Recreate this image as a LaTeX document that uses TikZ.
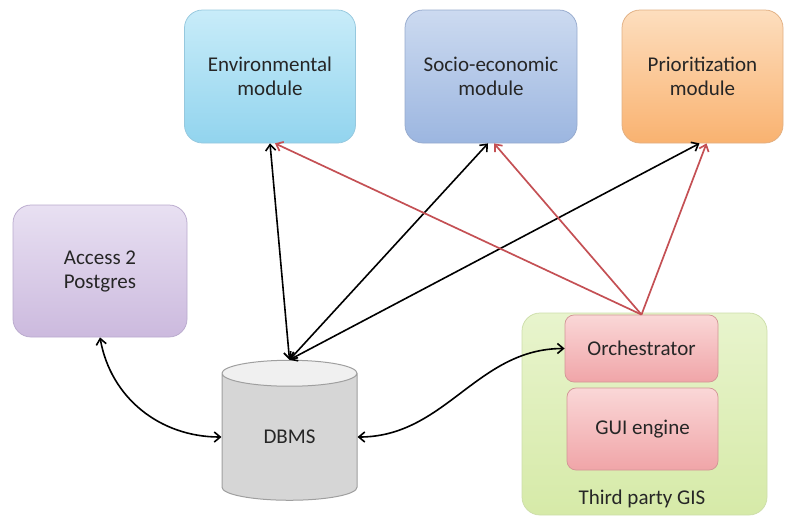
\documentclass[tikz,border=0pt]{standalone}
\usepackage{fontspec}
\setmainfont{Carlito}
\usetikzlibrary{shapes.geometric,arrows.meta}

\definecolor{envtop}{RGB}{200,236,249}
\definecolor{envbot}{RGB}{146,212,238}
\definecolor{envline}{RGB}{150,200,222}
\definecolor{soctop}{RGB}{204,218,240}
\definecolor{socbot}{RGB}{156,182,224}
\definecolor{socline}{RGB}{150,170,205}
\definecolor{pritop}{RGB}{253,222,190}
\definecolor{pribot}{RGB}{249,178,112}
\definecolor{priline}{RGB}{225,175,130}
\definecolor{acctop}{RGB}{232,224,242}
\definecolor{accbot}{RGB}{204,186,222}
\definecolor{accline}{RGB}{185,170,205}
\definecolor{gistop}{RGB}{232,244,205}
\definecolor{gisbot}{RGB}{214,234,168}
\definecolor{gisline}{RGB}{205,222,170}
\definecolor{orchtop}{RGB}{250,215,215}
\definecolor{orchbot}{RGB}{240,165,168}
\definecolor{orchline}{RGB}{210,150,150}
\definecolor{dbbody}{RGB}{214,214,214}
\definecolor{dbend}{RGB}{240,240,240}
\definecolor{linkred}{RGB}{196,80,84}

\tikzset{every picture/.style={line width=0.75pt}}
\tikzset{
  modbox/.style={rounded corners=18pt, inner sep=2pt, align=center, font=\fontsize{21}{24}\selectfont, text=black!85},
  innerbox/.style={rounded corners=9pt, inner sep=2pt, align=center, font=\fontsize{21}{24}\selectfont, text=black!85},
  link/.style={line width=1.6pt, {Straight Barb[length=6pt,width=10pt]}-{Straight Barb[length=6pt,width=10pt]}},
  redlink/.style={line width=1.7pt, draw=linkred, -{Straight Barb[length=6pt,width=10pt]}},
}

\begin{document}
\begin{tikzpicture}[x=1pt,y=1pt,yscale=-1,xscale=1]
	\useasboundingbox (0,0) rectangle (786,520);

	%Shape: Rounded Rect [id:env]
	\node[modbox, draw=envline, top color=envtop, bottom color=envbot, minimum width=171pt, minimum height=133pt] (env) at (270,76.5) {Environmental\\module};
	%Shape: Rounded Rect [id:soc]
	\node[modbox, draw=socline, top color=soctop, bottom color=socbot, minimum width=172pt, minimum height=133pt] (soc) at (491,76.5) {Socio-economic\\module};
	%Shape: Rounded Rect [id:pri]
	\node[modbox, draw=priline, top color=pritop, bottom color=pribot, minimum width=161pt, minimum height=133pt] (pri) at (702.5,76.5) {Prioritization\\module};
	%Shape: Rounded Rect [id:acc]
	\node[modbox, draw=accline, top color=acctop, bottom color=accbot, minimum width=174pt, minimum height=132pt] (acc) at (100,271) {Access 2\\Postgres};

	%Shape: Can [id:dbms]
	\node[cylinder, shape border rotate=90, aspect=0.5, draw=gray!75, line width=1pt, cylinder uses custom fill, cylinder body fill=dbbody, cylinder end fill=dbend, minimum width=135pt, minimum height=140pt, inner sep=0pt, font=\fontsize{21}{24}\selectfont, text=black!85] (dbms) at (289.5,437) {\raisebox{-8pt}{DBMS}};

	%Shape: Rounded Rect [id:gis]
	\node[modbox, draw=gisline, top color=gistop, bottom color=gisbot, minimum width=245pt, minimum height=202pt] (gis) at (644.5,414) {};
	%Shape: Rounded Rect [id:orch]
	\node[innerbox, draw=orchline, top color=orchtop, bottom color=orchbot, minimum width=153pt, minimum height=67pt] (orch) at (641.5,348.5) {Orchestrator};
	%Shape: Rounded Rect [id:gui]
	\node[innerbox, draw=orchline, top color=orchtop, bottom color=orchbot, minimum width=151pt, minimum height=82pt] (gui) at (642.5,429) {GUI engine};
	% Text Node
	\node[font=\fontsize{21}{24}\selectfont, text=black!85] (gislbl) at (642,499) {Third party GIS};

	%Straight Lines
	\draw[link] (env.south) -- (dbms.north);
	\draw[link] ([xshift=-3pt]soc.south) -- (dbms.north);
	\draw[link] ([xshift=-3pt]pri.south) -- (dbms.north);
	\draw[redlink] (orch.north) -- ([xshift=5pt]env.south);
	\draw[redlink] (orch.north) -- ([xshift=3pt]soc.south);
	\draw[redlink] (orch.north) -- ([xshift=4pt]pri.south);

	%Curves
	\draw[link] (acc.south) to[out=80,in=180] (dbms.west);
	\draw[link] (dbms.east) to[out=0,in=180] (orch.west);

\end{tikzpicture}
\end{document}
